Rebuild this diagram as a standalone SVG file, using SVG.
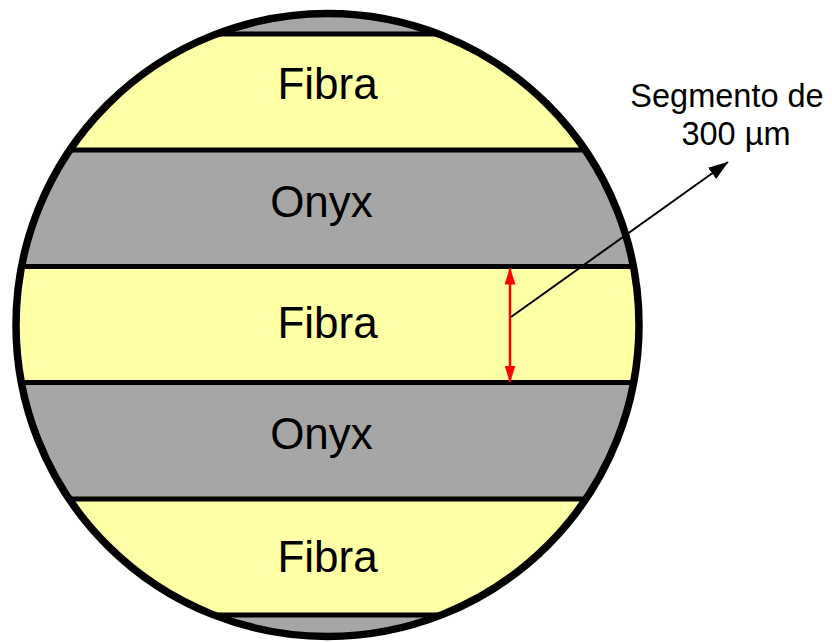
<svg xmlns="http://www.w3.org/2000/svg" width="832" height="642" viewBox="0 0 832 642">
  <style>
    .fib { fill: #FFFFA6; }
    .onx { fill: #A6A6A6; }
    .sep { stroke: #000; stroke-width: 5; }
    .lbl { font-family: "Liberation Sans", Arial, sans-serif; font-size: 44px; fill: #000; text-anchor: middle; }
    .note { font-family: "Liberation Sans", Arial, sans-serif; font-size: 32.5px; fill: #000; text-anchor: middle; }
  </style>
  <defs>
    <clipPath id="disc">
      <circle cx="327.5" cy="325" r="311.5"/>
    </clipPath>
    <marker id="redhead" viewBox="0 0 17 11" refX="16.5" refY="5.5" markerWidth="6.8" markerHeight="4.4" orient="auto-start-reverse" markerUnits="strokeWidth">
      <path d="M0,0 L17,5.5 L0,11 Z" fill="#FF0000"/>
    </marker>
    <marker id="blackhead" viewBox="0 0 20 14" refX="19.5" refY="7" markerWidth="10" markerHeight="7" orient="auto" markerUnits="strokeWidth">
      <path d="M0,0 L20,7 L0,14 Z" fill="#000"/>
    </marker>
  </defs>
  <rect width="832" height="642" fill="#fff"/>
  <g clip-path="url(#disc)">
    <g id="cap-top"><rect class="onx" x="0" y="0" width="832" height="34"/></g>
    <g id="fibra-1"><rect class="fib" x="0" y="34" width="832" height="116"/></g>
    <g id="onyx-1"><rect class="onx" x="0" y="150" width="832" height="116.5"/></g>
    <g id="fibra-2"><rect class="fib" x="0" y="266.5" width="832" height="116"/></g>
    <g id="onyx-2"><rect class="onx" x="0" y="382.5" width="832" height="116.5"/></g>
    <g id="fibra-3"><rect class="fib" x="0" y="499" width="832" height="116"/></g>
    <g id="cap-bottom"><rect class="onx" x="0" y="615" width="832" height="27"/></g>
    <g id="separators">
      <line class="sep" x1="0" y1="34" x2="832" y2="34"/>
      <line class="sep" x1="0" y1="150" x2="832" y2="150"/>
      <line class="sep" x1="0" y1="266.5" x2="832" y2="266.5"/>
      <line class="sep" x1="0" y1="382.5" x2="832" y2="382.5"/>
      <line class="sep" x1="0" y1="499" x2="832" y2="499"/>
      <line class="sep" x1="0" y1="615" x2="832" y2="615"/>
    </g>
  </g>
  <g id="outline">
    <circle cx="327.5" cy="325" r="311.5" fill="none" stroke="#000" stroke-width="7.5"/>
  </g>
  <g id="labels">
    <text class="lbl" x="327.5" y="99">Fibra</text>
    <text class="lbl" x="321.5" y="217">Onyx</text>
    <text class="lbl" x="327.5" y="338">Fibra</text>
    <text class="lbl" x="321.5" y="449">Onyx</text>
    <text class="lbl" x="327.5" y="572">Fibra</text>
  </g>
  <g id="note">
    <text class="note" x="727" y="107">Segmento de</text>
    <text class="note" x="736" y="145">300 µm</text>
  </g>
  <g id="connectors">
    <line x1="510" y1="268" x2="510" y2="382" stroke="#FF0000" stroke-width="2.5" marker-start="url(#redhead)" marker-end="url(#redhead)"/>
    <line x1="511" y1="317" x2="728" y2="162" stroke="#000" stroke-width="2" marker-end="url(#blackhead)"/>
  </g>
</svg>
